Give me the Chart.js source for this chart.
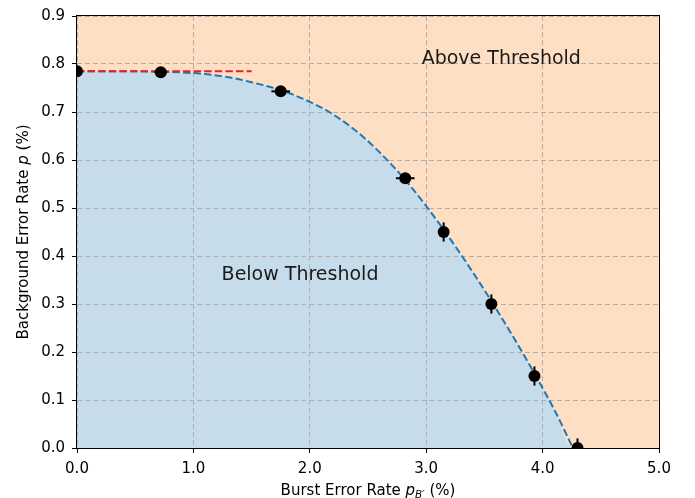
<!DOCTYPE html>
<html>
<head>
<meta charset="utf-8">
<script src="https://cdn.jsdelivr.net/npm/chart.js@4/dist/chart.umd.min.js"></script>
<style>
  html, body { margin: 0; padding: 0; background: #fff; }
  canvas { display: block; }
</style>
</head>
<body>
<canvas id="c" width="695" height="498"></canvas>
<script>
// ---- data ----
const curveX = [0, 0.5, 0.9, 1.1, 1.3, 1.5, 1.75, 2.0, 2.2, 2.45, 2.7, 2.85, 3.0, 3.15, 3.35, 3.56, 3.75, 3.93, 4.1, 4.26];
const curveY = [0.785, 0.7848, 0.7825, 0.779, 0.7726, 0.762, 0.7456, 0.7211, 0.695, 0.650, 0.591, 0.550, 0.504, 0.4547, 0.3847, 0.306, 0.2305, 0.155, 0.080, 0.0];
const boundaryEndX = 5.0;   // fill boundary continues along 0 to the right edge
const boundaryEndY = 0.0;
const pointX = [0, 0.72, 1.75, 2.82, 3.15, 3.56, 3.93, 4.30];
const pointY = [0.785, 0.783, 0.743, 0.562, 0.450, 0.300, 0.150, 0.0];
const xErr   = [0, 0.055, 0.08, 0.08, 0, 0, 0, 0];
const yErr   = [0, 0, 0, 0.004, 0.02, 0.02, 0.02, 0.02];
const redX = [0, 1.5];
const redY = [0.785, 0.785];
const xTicks = [0, 1, 2, 3, 4, 5];
const yTicks = [0, 0.1, 0.2, 0.3, 0.4, 0.5, 0.6, 0.7, 0.8, 0.9];
const annotations = [
  { text: 'Above Threshold', x: 3.645, y: 0.801 },
  { text: 'Below Threshold', x: 1.916, y: 0.351 }
];

const FONT = '"DejaVu Sans", "Liberation Sans", sans-serif';
const zip = (xs, ys) => xs.map((x, i) => ({ x, y: ys[i] }));
const boundary = zip(curveX.concat([boundaryEndX]), curveY.concat([boundaryEndY]));

// grid is redrawn on top of the filled regions (but under lines / markers)
const gridOverFill = {
  id: 'gridOverFill',
  afterDatasetDraw(chart, args) {
    if (args.index !== 1) return;
    const a = chart.chartArea;
    ['x', 'y'].forEach(id => {
      const s = chart.scales[id];
      if (s && typeof s.drawGrid === 'function') s.drawGrid(a);
    });
  }
};

const errorBars = {
  id: 'errorBars',
  afterDatasetsDraw(chart) {
    const { ctx, chartArea: a, scales: { x, y } } = chart;
    ctx.save();
    ctx.beginPath();
    ctx.rect(a.left, a.top, a.right - a.left, a.bottom - a.top);
    ctx.clip();
    ctx.strokeStyle = '#000';
    ctx.lineWidth = 2;
    pointX.forEach((px, i) => {
      const cx = x.getPixelForValue(px), cy = y.getPixelForValue(pointY[i]);
      if (xErr[i] > 0) {
        ctx.beginPath();
        ctx.moveTo(x.getPixelForValue(px - xErr[i]), cy);
        ctx.lineTo(x.getPixelForValue(px + xErr[i]), cy);
        ctx.stroke();
      }
      if (yErr[i] > 0) {
        ctx.beginPath();
        ctx.moveTo(cx, y.getPixelForValue(pointY[i] - yErr[i]));
        ctx.lineTo(cx, y.getPixelForValue(pointY[i] + yErr[i]));
        ctx.stroke();
      }
    });
    ctx.restore();
  }
};

function drawRich(ctx, parts, x, y) {
  let total = 0;
  parts.forEach(p => { ctx.font = p.f; total += ctx.measureText(p.t).width; });
  let cx = x - total / 2;
  parts.forEach(p => {
    ctx.font = p.f;
    ctx.fillText(p.t, cx, y + (p.dy || 0));
    cx += ctx.measureText(p.t).width;
  });
}

const decorations = {
  id: 'decorations',
  afterDraw(chart) {
    const { ctx, chartArea: a, scales: { x, y } } = chart;
    ctx.save();
    // spines
    ctx.strokeStyle = '#000';
    ctx.lineWidth = 1;
    ctx.strokeRect(a.left - 0.5, a.top - 0.5, a.right - a.left + 1, a.bottom - a.top + 1);
    // annotations
    ctx.fillStyle = '#1a1a1a';
    ctx.textAlign = 'center';
    ctx.textBaseline = 'alphabetic';
    ctx.font = '19px ' + FONT;
    annotations.forEach(t => ctx.fillText(t.text, x.getPixelForValue(t.x), y.getPixelForValue(t.y)));
    // axis titles
    ctx.textAlign = 'left';
    ctx.fillStyle = '#000';
    const n = '15px ' + FONT, it = 'italic 15px ' + FONT, sub = 'italic 10.5px ' + FONT;
    drawRich(ctx, [
      { t: 'Burst Error Rate ', f: n },
      { t: 'p', f: it },
      { t: 'B\u2032', f: sub, dy: 3 },
      { t: ' (%)', f: n }
    ], (a.left + a.right) / 2, 495);
    ctx.translate(28, (a.top + a.bottom) / 2);
    ctx.rotate(-Math.PI / 2);
    drawRich(ctx, [
      { t: 'Background Error Rate ', f: n },
      { t: 'p', f: it },
      { t: ' (%)', f: n }
    ], 0, 0);
    ctx.restore();
  }
};

const gridCommon = {
  color: '#b0b0b0',
  lineWidth: 1,
  drawTicks: true,
  tickLength: 5,
  tickColor: '#000',
  tickWidth: 1,
  tickBorderDash: []
};
const borderCommon = { display: false, dash: [5, 3] };

new Chart(document.getElementById('c'), {
  type: 'line',
  data: {
    datasets: [
      { data: boundary, fill: 'end', backgroundColor: 'rgb(255,223,195)', borderColor: 'transparent', borderWidth: 0, pointRadius: 0, cubicInterpolationMode: 'monotone', order: 6 },
      { data: boundary, fill: 'origin', backgroundColor: 'rgb(199,220,235)', borderColor: 'transparent', borderWidth: 0, pointRadius: 0, cubicInterpolationMode: 'monotone', order: 5 },
      { data: zip(curveX, curveY), fill: false, borderColor: '#1f77b4', borderWidth: 2, borderDash: [7.4, 3.2], pointRadius: 0, cubicInterpolationMode: 'monotone', order: 4 },
      { data: zip(redX, redY), fill: false, borderColor: '#ee1c25', borderWidth: 2, borderDash: [7.4, 3.2], pointRadius: 0, tension: 0, order: 3 },
      { data: zip(pointX, pointY), showLine: false, fill: false, pointRadius: 6, pointBackgroundColor: '#000', pointBorderColor: '#000', pointBorderWidth: 0, clip: 0, order: 1 }
    ]
  },
  options: {
    responsive: false,
    devicePixelRatio: 1,
    animation: false,
    events: [],
    layout: { padding: { left: 0, top: 16, right: 36, bottom: 0 } },
    plugins: { legend: { display: false }, tooltip: { enabled: false } },
    scales: {
      x: {
        type: 'linear', min: 0, max: 5,
        afterBuildTicks: s => { s.ticks = xTicks.map(v => ({ value: v })); },
        afterFit: s => { s.height = 50; s.paddingLeft = 0; s.paddingRight = 0; },
        ticks: { color: '#000', font: { family: FONT, size: 15 }, padding: 7, maxRotation: 0, autoSkip: false, callback: v => Number(v).toFixed(1) },
        grid: gridCommon,
        border: borderCommon
      },
      y: {
        type: 'linear', min: 0, max: 0.9,
        afterBuildTicks: s => { s.ticks = yTicks.map(v => ({ value: v })); },
        afterFit: s => { s.width = 77; s.paddingTop = 0; s.paddingBottom = 0; },
        ticks: { color: '#000', font: { family: FONT, size: 15 }, padding: 7, autoSkip: false, callback: v => Number(v).toFixed(1) },
        grid: gridCommon,
        border: borderCommon
      }
    }
  },
  plugins: [gridOverFill, errorBars, decorations]
});
</script>
</body>
</html>
